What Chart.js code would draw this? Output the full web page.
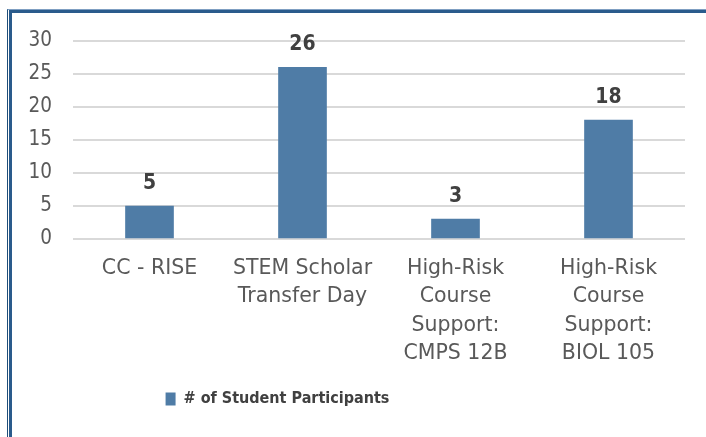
<!DOCTYPE html>
<html>
<head>
<meta charset="utf-8">
<script src="https://cdn.jsdelivr.net/npm/chart.js@4.4.1/dist/chart.umd.min.js"></script>
<style>
  html, body { margin: 0; padding: 0; background: #fff; }
  #wrap { position: relative; width: 706px; height: 437px; overflow: hidden; }
  .frame { position: absolute; width: 720px; height: 460px; pointer-events: none; }
  #frameOuter { left: 7px; top: 9px; border-left: 1px solid #1f4e79; border-top: 1px solid #7f9fc2; }
  #frameInner { left: 9px; top: 10px; border-left: 3px solid #2a5b8c; border-top: 3px solid #2a5b8c; }
  canvas { position: absolute; left: 0; top: 0; }
</style>
</head>
<body>
<div id="wrap">
  <canvas id="barChart" width="706" height="437"></canvas>
  <div class="frame" id="frameOuter"></div>
  <div class="frame" id="frameInner"></div>
</div>
<script>
// data
const categories = [
    'CC - RISE',
    ['STEM Scholar', 'Transfer Day'],
    ['High-Risk', 'Course', 'Support:', 'CMPS 12B'],
    ['High-Risk', 'Course', 'Support:', 'BIOL 105']
];
const participants = [5, 26, 3, 18];
const seriesName = '# of Student Participants';
const yTicks = [0, 5, 10, 15, 20, 25, 30];

const condensed = "'DejaVu Sans Condensed', 'DejaVu Sans', sans-serif";
const regular = "'DejaVu Sans', sans-serif";

// value labels above bars
const valueLabels = {
    id: 'valueLabels',
    afterDatasetsDraw(chart) {
        const ctx = chart.ctx;
        const meta = chart.getDatasetMeta(0);
        ctx.save();
        ctx.font = 'bold 21px ' + condensed;
        ctx.fillStyle = '#404040';
        ctx.textAlign = 'center';
        ctx.textBaseline = 'alphabetic';
        meta.data.forEach((bar, i) => {
            ctx.fillText(String(participants[i]), bar.x, bar.y - 17);
        });
        ctx.restore();
    }
};

// legend sits left of centre in the original
const legendShift = {
    id: 'legendShift',
    afterLayout(chart) {
        const dx = -65;
        chart.legend.left += dx;
        chart.legend.right += dx;
    }
};

const ctxBar = document.getElementById('barChart');
new Chart(ctxBar, {
    type: 'bar',
    data: {
        labels: categories,
        datasets: [{
            label: seriesName,
            data: participants,
            backgroundColor: '#4f7ca6',
            borderWidth: 0,
            barThickness: 48
        }]
    },
    options: {
        responsive: false,
        animation: false,
        layout: { padding: { top: 41, right: 21, bottom: 20, left: 0 } },
        plugins: {
            legend: {
                position: 'bottom',
                labels: {
                    boxWidth: 10,
                    boxHeight: 13,
                    padding: 17,
                    color: '#404040',
                    font: { family: condensed, size: 16, weight: 'bold' }
                }
            },
            tooltip: { enabled: false }
        },
        scales: {
            x: {
                grid: { display: false, drawTicks: false },
                border: { display: false },
                ticks: {
                    color: '#595959',
                    padding: 15,
                    maxRotation: 0,
                    autoSkip: false,
                    font: { family: regular, size: 20.5, lineHeight: 1.39 }
                },
                afterFit(scale) { scale.height = 135; }
            },
            y: {
                min: 0,
                max: 30,
                grid: { color: '#d9d9d9', lineWidth: 2, drawTicks: false },
                border: { display: false },
                afterBuildTicks(scale) { scale.ticks = yTicks.map(v => ({ value: v })); },
                ticks: {
                    color: '#595959',
                    padding: 21,
                    font: { family: condensed, size: 20.5 }
                },
                afterFit(scale) { scale.width = 73; }
            }
        }
    },
    plugins: [valueLabels, legendShift]
});
</script>
</body>
</html>
